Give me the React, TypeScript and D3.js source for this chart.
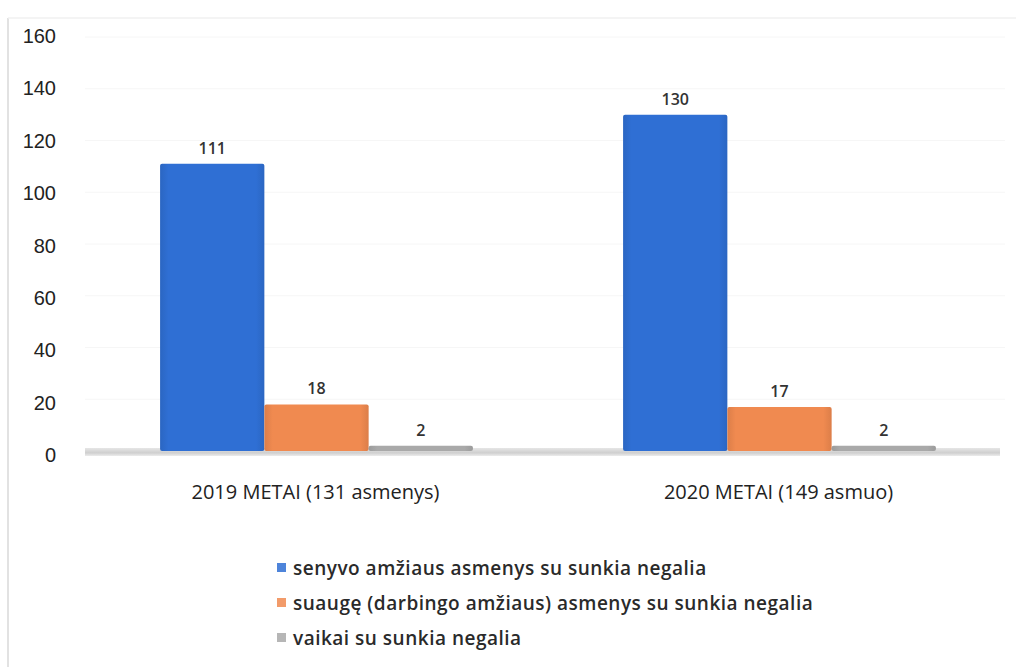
import { useRef, useEffect } from 'react';
import * as d3 from 'd3';

const categories = ['2019 METAI (131 asmenys)', '2020 METAI (149 asmuo)'];
const seriesNames = [
  'senyvo amžiaus asmenys su sunkia negalia',
  'suaugę (darbingo amžiaus) asmenys su sunkia negalia',
  'vaikai su sunkia negalia',
];
const seniors = [111, 130];
const adults = [18, 17];
const children = [2, 2];
const yTicks = [0, 20, 40, 60, 80, 100, 120, 140, 160];
const colors = ['#2f6fd4', '#f08a50', '#a9a9a9'];

export default function App() {
  const svgRef = useRef<SVGSVGElement>(null);

  useEffect(() => {
    document.body.style.margin = '0';
    if (!svgRef.current) return;
    const svg = d3.select(svgRef.current);
    svg.selectAll('*').remove();

    const W = 1016;
    const H = 667;
    const series = [seniors, adults, children];

    svg.append('rect').attr('width', W).attr('height', H).attr('fill', '#fff');

    // frame
    svg.append('line').attr('x1', 8).attr('x2', 8).attr('y1', 18).attr('y2', H)
      .attr('stroke', '#e2e2e2').attr('stroke-width', 2);
    svg.append('line').attr('x1', 8).attr('x2', W).attr('y1', 18).attr('y2', 18)
      .attr('stroke', '#f0f0f0').attr('stroke-width', 1.5);

    const y = d3.scaleLinear().domain([0, 160]).range([451, 37]);
    const yLab = d3.scaleLinear().domain([0, 160]).range([455, 36]);
    const x0 = d3.scaleBand<string>().domain(categories).range([85, 1011]).padding(0);
    const x1 = d3.scaleBand<number>().domain([0, 1, 2]).range([0, x0.bandwidth()])
      .paddingInner(0).paddingOuter(0.72);

    // gridlines (very faint)
    svg.selectAll('.grid').data(yTicks.slice(1)).enter().append('line')
      .attr('x1', 85).attr('x2', 1005)
      .attr('y1', (d) => y(d)).attr('y2', (d) => y(d))
      .attr('stroke', '#f6f6f6').attr('stroke-width', 1);

    // y labels
    svg.selectAll('.ylab').data(yTicks).enter().append('text')
      .attr('x', 56).attr('y', (d) => yLab(d)).attr('dy', '0.35em')
      .attr('text-anchor', 'end').attr('font-family', 'Liberation Sans, Arial, sans-serif')
      .attr('font-size', 20).attr('fill', '#222').text((d) => d);

    // floor
    const defs = svg.append('defs');
    const fg = defs.append('linearGradient').attr('id', 'floor').attr('x1', 0).attr('x2', 0).attr('y1', 0).attr('y2', 1);
    fg.append('stop').attr('offset', '0%').attr('stop-color', '#e6e6e6');
    fg.append('stop').attr('offset', '60%').attr('stop-color', '#cfcfcf');
    fg.append('stop').attr('offset', '100%').attr('stop-color', '#ececec');
    svg.append('rect').attr('x', 85).attr('y', y(0) - 3).attr('width', 915).attr('height', 8)
      .attr('fill', 'url(#floor)');

    colors.forEach((c, i) => {
      const g = defs.append('linearGradient').attr('id', `bar${i}`).attr('x1', 0).attr('x2', 1).attr('y1', 0).attr('y2', 0);
      g.append('stop').attr('offset', '0%').attr('stop-color', d3.color(c)!.darker(0.25).toString());
      g.append('stop').attr('offset', '8%').attr('stop-color', c);
      g.append('stop').attr('offset', '92%').attr('stop-color', c);
      g.append('stop').attr('offset', '100%').attr('stop-color', d3.color(c)!.darker(0.25).toString());
    });

    const bars = categories.flatMap((cat, ci) =>
      series.map((s, si) => ({ cat, si, v: s[ci] })),
    );

    svg.selectAll('.bar').data(bars).enter().append('rect')
      .attr('x', (d) => x0(d.cat)! + x1(d.si)!)
      .attr('y', (d) => y(d.v))
      .attr('width', x1.bandwidth())
      .attr('height', (d) => y(0) - y(d.v))
      .attr('rx', 2)
      .attr('fill', (d) => `url(#bar${d.si})`);

    svg.selectAll('.vlab').data(bars).enter().append('text')
      .attr('x', (d) => x0(d.cat)! + x1(d.si)! + x1.bandwidth() / 2)
      .attr('y', (d) => y(d.v) - 10)
      .attr('text-anchor', 'middle').attr('font-family', 'Open Sans, sans-serif')
      .attr('font-size', 16).attr('font-weight', 600).attr('fill', '#333')
      .text((d) => d.v);

    // category labels
    svg.selectAll('.xlab').data(categories).enter().append('text')
      .attr('x', (d) => x0(d)! + x0.bandwidth() / 2 - 1)
      .attr('y', 499)
      .attr('text-anchor', 'middle').attr('font-family', 'Open Sans, sans-serif')
      .attr('font-size', 20).attr('fill', '#222').text((d) => d);

    // legend
    const leg = svg.append('g').attr('transform', 'translate(277,568)');
    seriesNames.forEach((n, i) => {
      const row = leg.append('g').attr('transform', `translate(0,${i * 35})`);
      row.append('rect').attr('x', 0).attr('y', -5).attr('width', 9).attr('height', 9)
        .attr('fill', colors[i]).attr('opacity', 0.85);
      row.append('text').attr('x', 16).attr('y', 0).attr('dy', '0.35em')
        .attr('font-family', 'Open Sans, sans-serif').attr('font-size', 19).attr('font-weight', 600)
        .attr('letter-spacing', 0.5)
        .attr('fill', '#2a2a2a').text(n);
    });
  }, []);

  return <svg ref={svgRef} width={1016} height={667} style={{ display: 'block' }} />;
}
